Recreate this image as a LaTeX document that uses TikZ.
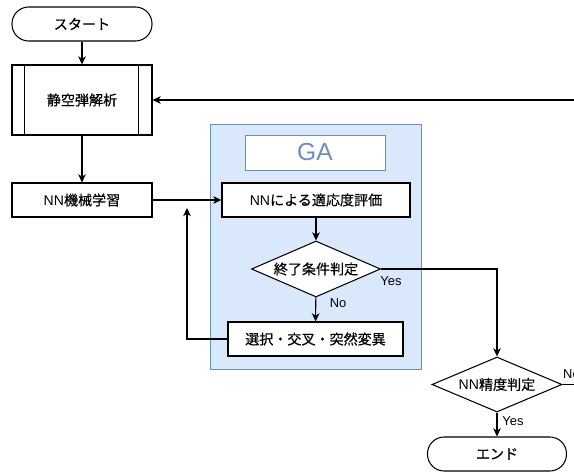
\documentclass[tikz,border=0pt]{standalone}
\usepackage{fontspec}
\setmainfont{Liberation Sans}
\newfontfamily\jp[FakeBold=0.5]{Noto Sans CJK JP}
\usetikzlibrary{arrows.meta,shapes.geometric}

\definecolor{gafill}{RGB}{218,232,252}
\definecolor{galine}{RGB}{108,142,191}

\tikzset{
  proc/.style={draw, fill=white, line width=0.9pt, minimum width=4.2cm, minimum height=1.02cm, inner sep=0pt},
  term/.style={proc, rounded corners=0.5cm},
  cond/.style={draw, fill=white, line width=0.9pt, diamond, aspect=2.3, minimum width=3.87cm, minimum height=1.68cm, inner sep=0pt},
  flow/.style={line width=0.9pt, -{Stealth[length=7pt,width=6.5pt,inset=2pt]}},
  wire/.style={line width=0.9pt},
  lbl/.style={font=\fontsize{11}{13}\selectfont, inner sep=0pt},
}

\begin{document}
\begin{tikzpicture}[x=0.03cm,y=-0.03cm,font=\fontsize{12}{14}\selectfont]
\useasboundingbox (0,0) rectangle (574,472);

% GA block
\draw[galine, fill=gafill] (210,124) rectangle (421,369);
\node[draw=galine, fill=white, minimum width=4.2cm, minimum height=1.05cm, text=galine, font=\fontsize{21}{25}\selectfont] (ga) at (315,152.5) {GA};

% main column
\node[term] (start) at (82,24) {\jp スタート};
\node[proc, minimum height=2.1cm] (ana) at (82,100) {\jp 静空弾解析};
\draw[wire] ([xshift=0.39cm]ana.north west) -- ([xshift=0.39cm]ana.south west);
\draw[wire] ([xshift=-0.42cm]ana.north east) -- ([xshift=-0.42cm]ana.south east);
\node[proc] (learn) at (82,200) {NN{\jp 機械学習}};

% GA loop
\node[proc, minimum width=5.64cm] (eval) at (316,200) {NN{\jp による適応度評価}};
\node[cond] (stop) at (316,269) {\jp 終了条件判定};
\node[proc, minimum width=5.25cm] (sel) at (315.5,339) {\jp 選択・交叉・突然変異};

% accuracy check
\node[cond, minimum width=3.9cm, minimum height=1.65cm] (acc) at (497,384.5) {NN{\jp 精度判定}};
\node[term, minimum width=4.17cm] (end) at (497,454) {\jp エンド};

\coordinate (redo) at (574,100);
\coordinate (out) at (574,384.5);
\coordinate (back) at (187,208);

\draw[flow] (start) -- (ana);
\draw[flow] (ana) -- (learn);
\draw[flow] (learn) -- (eval);
\draw[flow] (eval) -- (stop);
\draw[flow] (stop) -- (sel);
\draw[flow] (stop.east) -| (acc.north);
\draw[flow] (sel.west) -| (back);
\draw[flow] (redo) -- (ana.east);
\draw[wire] (acc.east) -- (out);
\draw[flow] (acc) -- (end);

\node[lbl] (yes1) at (391,281) {Yes};
\node[lbl] (no1) at (338,303) {No};
\node[lbl] (yes2) at (513,421) {Yes};
\node[lbl, anchor=west] (no2) at (563,374) {No};
\end{tikzpicture}
\end{document}
